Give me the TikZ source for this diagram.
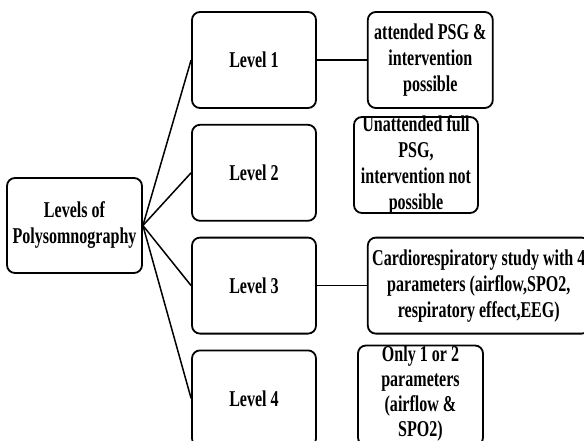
\documentclass[tikz,border=0pt]{standalone}
\usepackage{fontspec}
\newfontfamily\psgfont{Liberation Serif}[FakeStretch=0.71]
\usetikzlibrary{positioning}

\begin{document}
\begin{tikzpicture}[x=1pt,y=-1pt,node distance=15pt and 50pt, every node/.style={font=\psgfont\bfseries\fontsize{22.6pt}{26pt}\selectfont,align=center}]
\tikzset{box/.style={draw,line width=1.8pt,rounded corners=8pt,inner sep=0pt}, lvl/.style={box,minimum width=124pt,minimum height=96pt}, info/.style={box,minimum width=125pt,minimum height=96pt}, link/.style={line width=1.5pt}}
\useasboundingbox (0,0) rectangle (584,441);
\clip (0,0) rectangle (584,441);
\node[box,minimum width=135pt,minimum height=95pt] (root) at (74.5,225.5) {Levels of\\Polysomnography};
\node[lvl] (l1) at (254,60) {Level 1};
\node[lvl,below=of l1] (l2) {Level 2};
\node[lvl,below=of l2] (l3) {Level 3};
\node[lvl,below=of l3] (l4) {Level 4};
\node[info,right=of l1] (r1) {attended PSG \&\\intervention\\possible};
\node[info,minimum width=124pt,label={[inner sep=0pt]center:{Unattended full\\PSG,\\intervention not\\possible}}] (r2) at (416,165) {};
\node[info,minimum width=222pt,right=of l3] (r3) {Cardiorespiratory study with 4\\parameters (airflow,SPO2,\\respiratory effect,EEG)};
\node[info,minimum height=100pt,label={[inner sep=0pt,yshift=2pt,font=\psgfont\bfseries\fontsize{22.6pt}{25pt}\selectfont]center:{Only 1 or 2\\parameters\\(airflow \&\\SPO2)}}] (r4) at (420.5,395.5) {};
\draw[link] (root.east) -- (l1.west);
\draw[link] (root.east) -- (l2.west);
\draw[link] (root.east) -- (l3.west);
\draw[link] (root.east) -- (l4.west);
\draw[link] (l1.east) -- (r1.west);
\draw[link] (l3.east) -- (r3.west);
\end{tikzpicture}
\end{document}
